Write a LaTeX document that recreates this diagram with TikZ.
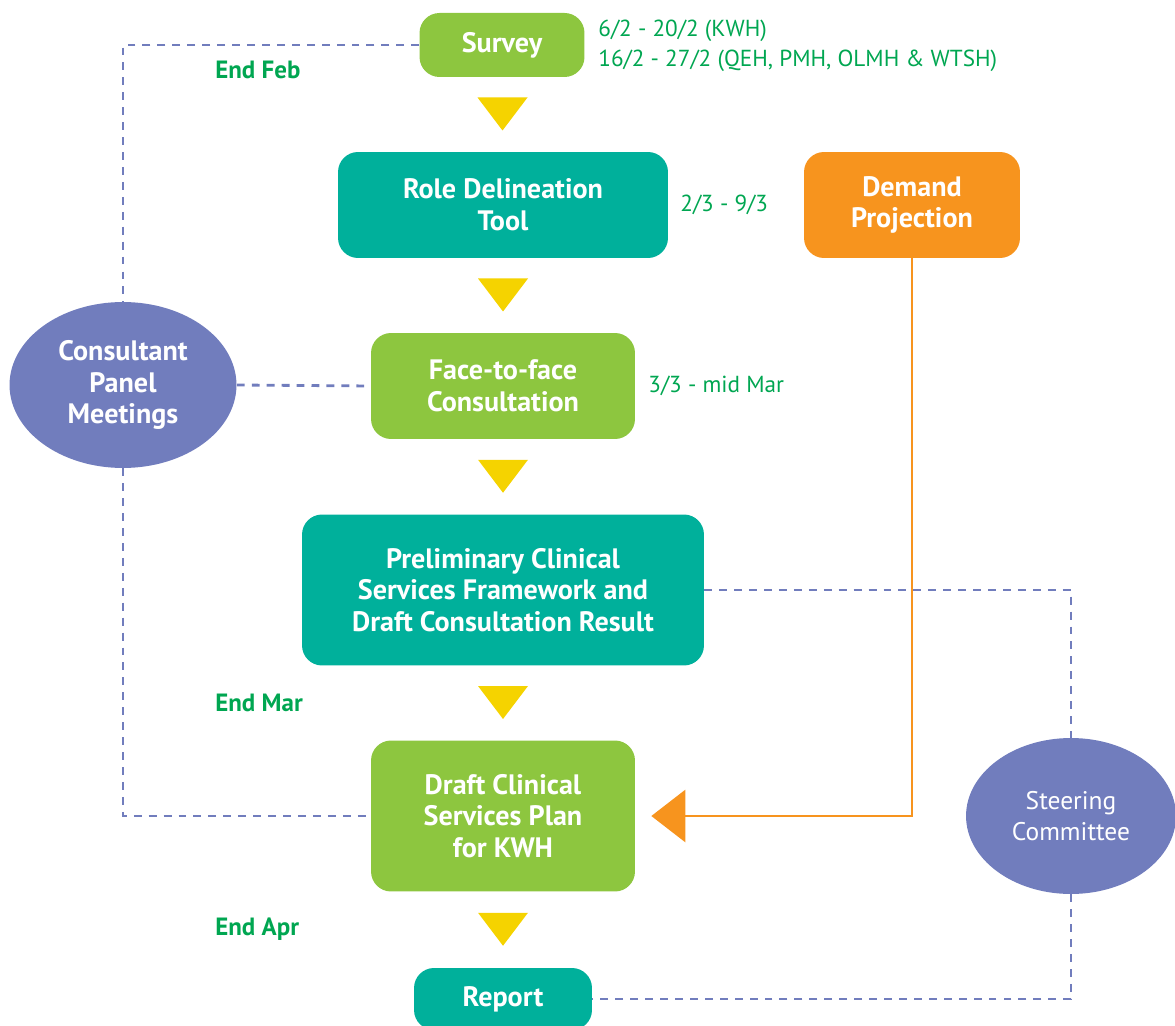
\documentclass[tikz,border=0pt]{standalone}
\usepackage{xcolor}
\usepackage{fontspec}
\setmainfont{PT Sans}
\usetikzlibrary{arrows.meta,calc,shapes.geometric}

\definecolor{leafgreen}{HTML}{8DC63F}
\definecolor{tealbox}{HTML}{00B09B}
\definecolor{orangebox}{HTML}{F7941E}
\definecolor{panelblue}{HTML}{717DBD}
\definecolor{stepyellow}{HTML}{F5D300}
\definecolor{dategreen}{HTML}{00A651}

\begin{document}
\begin{tikzpicture}[x=0.02cm,y=-0.02cm,
                    box/.style={rounded corners=0.4cm,text=white,align=center,inner sep=0pt,
                                font=\bfseries\fontsize{16}{18}\selectfont},
                    green box/.style={box,fill=leafgreen},
                    teal box/.style={box,fill=tealbox},
                    orange box/.style={box,fill=orangebox},
                    meeting/.style={ellipse,fill=panelblue,text=white,align=center,inner sep=0pt,
                                    font=\fontsize{14.5}{18}\selectfont},
                    date/.style={text=dategreen,anchor=west,inner sep=0pt,align=left,
                                 font=\fontsize{13.2}{17}\selectfont},
                    deadline/.style={date,font=\bfseries\fontsize{14.2}{17}\selectfont},
                    link/.style={panelblue,line width=1.6pt,dash pattern=on 4.5pt off 4pt},
                    feed/.style={orangebox,line width=1.6pt,
                                 -{Triangle[length=0.68cm,width=1.04cm]}}]

    \useasboundingbox (0,0) rectangle (1175,1026);

    % main column
    \node[green box, minimum width=3.3cm, minimum height=1.28cm] (survey) at (502,45) {Survey};
    \node[teal box, minimum width=6.6cm, minimum height=2.12cm] (role) at (503,205) {Role Delineation\\Tool};
    \node[green box, minimum width=5.28cm, minimum height=2.12cm] (face) at (503,386) {Face-to-face\\Consultation};
    \node[teal box, minimum width=8.04cm, minimum height=3.02cm] (prelim) at (503,590)
        {Preliminary Clinical\\Services Framework and\\Draft Consultation Result};
    \node[green box, minimum width=5.28cm, minimum height=3.02cm] (draft) at (503,816)
        {Draft Clinical\\Services Plan\\for KWH};
    \node[teal box, minimum width=3.56cm, minimum height=1.24cm] (report) at (503,999) {Report};

    % side nodes
    \node[orange box, minimum width=4.32cm, minimum height=2.12cm] (demand) at (912,205) {Demand\\Projection};
    \node[meeting, font=\bfseries\fontsize{16}{18}\selectfont, minimum width=4.54cm, minimum height=3.32cm]
        (consult) at (123,385) {Consultant\\Panel\\Meetings};
    \node[meeting, minimum width=4.2cm, minimum height=3.12cm] (steer) at (1071,816) {Steering\\Committee};

    % dates
    \node[date] (survey date) at (598,46) {6/2 - 20/2 (KWH)\\16/2 - 27/2 (QEH, PMH, OLMH \& WTSH)};
    \node[date] (role date) at (680,205) {2/3 - 9/3};
    \node[date] (face date) at (648,386) {3/3 - mid Mar};
    \node[deadline] (feb) at (215,70) {End Feb};
    \node[deadline] (mar) at (215,703) {End Mar};
    \node[deadline] (apr) at (215,929) {End Apr};

    % step markers
    \foreach \a/\b in {survey/role,role/face,face/prelim,prelim/draft,draft/report} {
        \coordinate (m) at ($(\a.south)!0.5!(\b.north)$);
        \fill[stepyellow] ($(m)+(-25,-17)$) -- ($(m)+(25,-17)$) -- ($(m)+(0,16)$) -- cycle;
    }

    % links
    \draw[link] (survey.west) -| (consult.north);
    \draw[link] (consult.east) -- (face.west);
    \draw[link] (consult.south) |- (draft.west);
    \draw[link] (prelim.east) -| (steer.north);
    \draw[link] (steer.south) |- (report.east);
    \draw[feed, shorten >=0.32cm] (demand.south) |- (draft.east);
\end{tikzpicture}
\end{document}
